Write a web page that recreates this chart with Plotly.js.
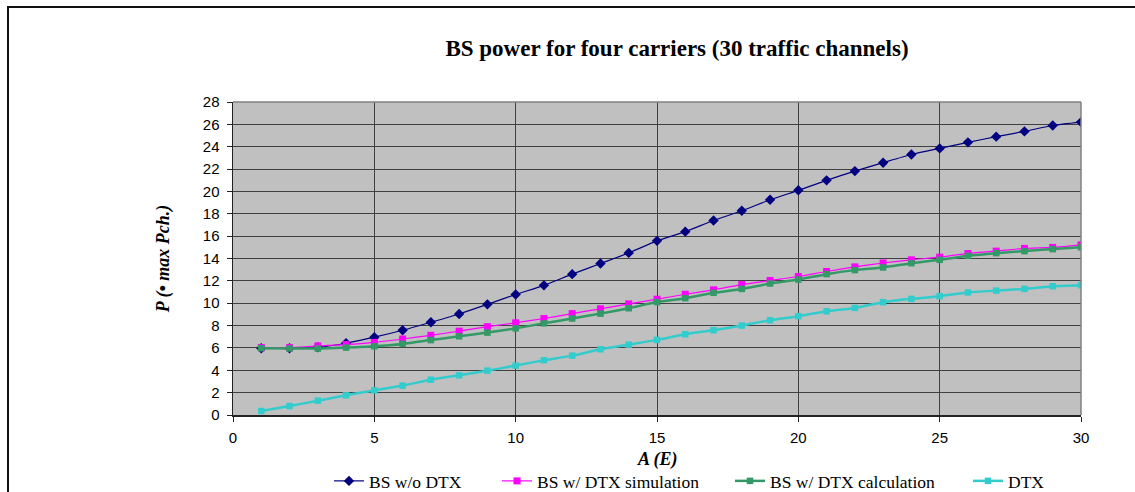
<!DOCTYPE html>
<html>
<head>
<meta charset="utf-8">
<script src="https://cdn.plot.ly/plotly-3.0.1.min.js"></script>
<style>
  html, body { margin: 0; padding: 0; background: #fff; overflow: hidden; }
  #frame { position: absolute; left: 7px; top: 6px; width: 1200px; height: 600px;
           border-left: 2px solid #111; border-top: 2px solid #111; }
  #chart { position: absolute; left: 0; top: 0; width: 1135px; height: 492px; }
</style>
</head>
<body>
<div id="frame"></div>
<div id="chart"></div>
<script>
const traffic = [1,2,3,4,5,6,7,8,9,10,11,12,13,14,15,16,17,18,19,20,21,22,23,24,25,26,27,28,29,30];
const bsNoDtx = [5.97,5.97,6.06,6.42,6.96,7.58,8.3,9.04,9.9,10.78,11.6,12.6,13.55,14.5,15.58,16.4,17.4,18.27,19.25,20.1,20.99,21.82,22.57,23.3,23.85,24.39,24.9,25.37,25.9,26.2];
const bsDtxSim = [6.03,6.03,6.18,6.3,6.5,6.8,7.13,7.5,7.9,8.25,8.63,9.07,9.5,9.94,10.36,10.8,11.2,11.67,12.03,12.39,12.84,13.25,13.6,13.88,14.12,14.45,14.66,14.9,14.99,15.22];
const bsDtxCalc = [5.97,5.95,5.94,6.03,6.15,6.36,6.7,7.04,7.37,7.75,8.2,8.63,9.07,9.55,10.1,10.45,10.93,11.28,11.76,12.12,12.6,12.96,13.2,13.58,13.88,14.24,14.48,14.66,14.84,15.0];
const dtx = [0.36,0.8,1.28,1.76,2.2,2.63,3.16,3.55,3.97,4.42,4.9,5.31,5.88,6.3,6.72,7.22,7.58,8.0,8.48,8.84,9.28,9.58,10.09,10.39,10.63,10.96,11.13,11.28,11.52,11.61];
const seriesNames = ['BS w/o DTX','BS w/ DTX simulation','BS w/ DTX calculation','DTX'];
const xTitle = 'A (E)';

const traces = [
  {x: traffic, y: bsNoDtx, name: seriesNames[0], legend: 'legend', mode: 'lines+markers',
   line: {color: '#000080', width: 1.2, shape: 'spline', smoothing: 0.6},
   marker: {symbol: 'diamond', size: 8, color: '#000080'}},
  {x: traffic, y: bsDtxSim, name: seriesNames[1], legend: 'legend2', mode: 'lines+markers',
   line: {color: '#FF00FF', width: 1.2, shape: 'spline', smoothing: 0.6},
   marker: {symbol: 'square', size: 7, color: '#FF00FF'}},
  {x: traffic, y: bsDtxCalc, name: seriesNames[2], legend: 'legend3', mode: 'lines+markers',
   line: {color: '#339966', width: 2.5, shape: 'spline', smoothing: 0.6},
   marker: {symbol: 'square', size: 6.5, color: '#339966'}},
  {x: traffic, y: dtx, name: seriesNames[3], legend: 'legend4', mode: 'lines+markers',
   line: {color: '#33CCCC', width: 2.5, shape: 'spline', smoothing: 0.6},
   marker: {symbol: 'square', size: 6.5, color: '#33CCCC'}}
];

function legendAt(px) {
  return {orientation: 'h', xref: 'container', x: px / 1135, xanchor: 'left',
          yref: 'container', y: 1 - 481 / 492, yanchor: 'middle',
          font: {family: 'Liberation Serif', size: 17.5, color: '#000'},
          bgcolor: 'rgba(0,0,0,0)', itemwidth: 30, borderwidth: 0};
}

const layout = {
  width: 1135, height: 492,
  margin: {l: 233, r: 54, t: 102, b: 77, autoexpand: false},
  paper_bgcolor: 'rgba(0,0,0,0)',
  plot_bgcolor: '#C0C0C0',
  title: {text: 'BS power for four carriers (30 traffic channels)',
          font: {family: 'Liberation Serif', size: 23, color: '#000', weight: 'bold'},
          xref: 'container', x: 677 / 1135, xanchor: 'center',
          yref: 'container', y: 1 - 48 / 492, yanchor: 'middle'},
  xaxis: {range: [0, 30], dtick: 5, tick0: 0, showgrid: true, gridcolor: '#404040', gridwidth: 1,
          zeroline: false, showline: true, linecolor: '#222', linewidth: 1.5,
          ticks: 'outside', ticklen: 5, tickcolor: '#222', ticklabelstandoff: 3,
          tickfont: {family: 'Liberation Sans', size: 15, color: '#000'}},
  yaxis: {range: [0, 28], dtick: 2, tick0: 0, showgrid: true, gridcolor: '#404040', gridwidth: 1,
          zeroline: false, showline: true, linecolor: '#222', linewidth: 1.5,
          ticks: 'outside', ticklen: 5, tickcolor: '#222', ticklabelstandoff: 4,
          tickfont: {family: 'Liberation Sans', size: 15, color: '#000'},
          title: {text: '<b><i>P (• max Pch.)</i></b>', standoff: 28,
                  font: {family: 'Liberation Serif', size: 18, color: '#000'}}},
  annotations: [
    {text: '<b><i>' + xTitle + '</i></b>', xref: 'paper', yref: 'paper', x: 0.5, y: (415 - 459) / 313,
     xanchor: 'center', yanchor: 'middle', showarrow: false,
     font: {family: 'Liberation Serif', size: 18, color: '#000'}}
  ],
  shapes: [
    {type: 'line', xref: 'paper', yref: 'paper', x0: 0, x1: 1, y0: 1, y1: 1, line: {color: '#808080', width: 1.5}},
    {type: 'line', xref: 'paper', yref: 'paper', x0: 1, x1: 1, y0: 0, y1: 1, line: {color: '#808080', width: 1.5}}
  ],
  showlegend: true,
  legend: legendAt(329),
  legend2: legendAt(497),
  legend3: legendAt(730),
  legend4: legendAt(968)
};

Plotly.newPlot('chart', traces, layout, {displayModeBar: false, staticPlot: true});
</script>
</body>
</html>
